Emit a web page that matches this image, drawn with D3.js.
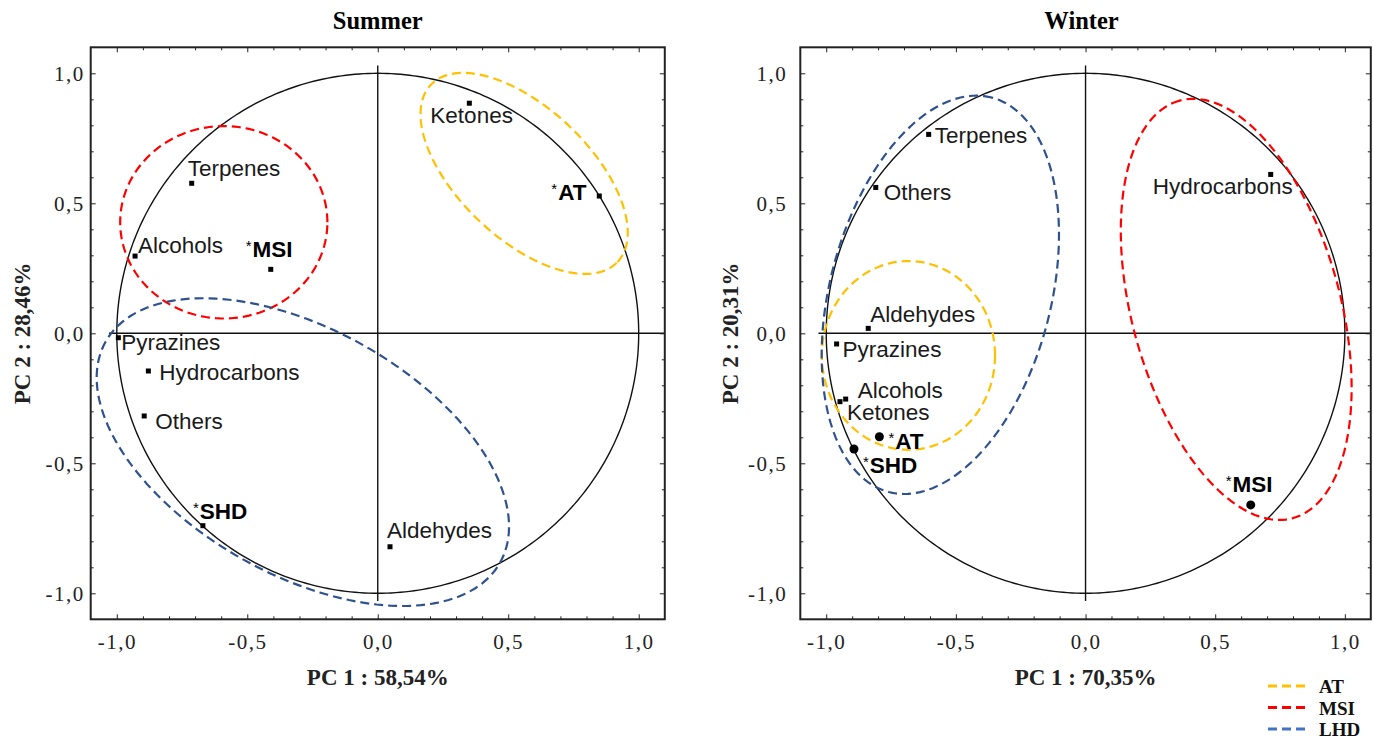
<!DOCTYPE html>
<html>
<head>
<meta charset="utf-8">
<script src="https://cdn.jsdelivr.net/npm/d3@7"></script>
<style>
  body { margin: 0; background: #fff; }
  svg { display: block; }
</style>
</head>
<body>
<div id="chart"></div>
<script>
// ---- data ----
// Summer: variable loadings
const summerVars = ["Terpenes", "Alcohols", "Pyrazines", "Hydrocarbons", "Others", "Aldehydes", "Ketones"];
const summerVarPC1 = [-0.713, -0.930, -0.994, -0.879, -0.895, 0.047, 0.351];
const summerVarPC2 = [0.577, 0.297, -0.017, -0.145, -0.318, -0.821, 0.885];
// Summer: samples
const summerSamples = ["MSI", "AT", "SHD"];
const summerSamplePC1 = [-0.410, 0.849, -0.670];
const summerSamplePC2 = [0.246, 0.528, -0.740];

// Winter: variable loadings
const winterVars = ["Terpenes", "Others", "Hydrocarbons", "Aldehydes", "Pyrazines", "Alcohols", "Ketones"];
const winterVarPC1 = [-0.605, -0.809, 0.714, -0.838, -0.960, -0.925, -0.947];
const winterVarPC2 = [0.765, 0.561, 0.611, 0.019, -0.041, -0.253, -0.263];
// Winter: samples
const winterSamples = ["AT", "SHD", "MSI"];
const winterSamplePC1 = [-0.795, -0.893, 0.637];
const winterSamplePC2 = [-0.398, -0.445, -0.660];

// group ellipses (centre, semi axes, rotation in degrees)
const groupNames = ["AT", "MSI", "LHD"];
const summerEllipses = [
  { group: "AT",  cx: 0.561,  cy: 0.615,  a: 0.494, b: 0.251, angle: -43.7 },
  { group: "MSI", cx: -0.590, cy: 0.427,  a: 0.397, b: 0.370, angle: 0 },
  { group: "LHD", cx: -0.287, cy: -0.457, a: 0.867, b: 0.472, angle: -29.4 }
];
const winterEllipses = [
  { group: "AT",  cx: -0.683, cy: -0.085, a: 0.334, b: 0.363, angle: 0 },
  { group: "MSI", cx: 0.581,  cy: 0.092,  a: 0.832, b: 0.402, angle: 105.2 },
  { group: "LHD", cx: -0.560, cy: 0.148,  a: 0.784, b: 0.426, angle: 75.3 }
];

const majorTicks = [-1, -0.5, 0, 0.5, 1];
const minorTicks = [-0.9, -0.8, -0.7, -0.6, -0.4, -0.3, -0.2, -0.1,
                    0.1, 0.2, 0.3, 0.4, 0.6, 0.7, 0.8, 0.9];

// ---- layout / style ----
const groupColor = { AT: "#FFC000", MSI: "#FF0000", LHD: "#2F528F" };
const legendColor = { AT: "#FFC000", MSI: "#FF0000", LHD: "#4472C4" };

// label offsets in px from the marker (left of text, baseline)
const summerLabelOffset = {
  Terpenes: [-4, -7], Alcohols: [3, -3], Pyrazines: [3, 12], Hydrocarbons: [11, 9],
  Others: [11, 13], Aldehydes: [-3, -9], Ketones: [-39, 20],
  MSI: [-25, -12], AT: [-48, 4], SHD: [-10, -7]
};
const winterLabelOffset = {
  Terpenes: [6, 9], Others: [8, 13], Hydrocarbons: [-118, 20], Aldehydes: [2, -6],
  Pyrazines: [6, 13], Alcohols: [12, -1], Ketones: [7, 18],
  AT: [9, 12], SHD: [9, 24], MSI: [-25, -13]
};

const W = 1374, H = 742;
const svg = d3.select("#chart")
  .append("svg")
  .attr("width", W)
  .attr("height", H);

const fmt = d => d3.format(".1f")(d).replace(".", ",").replace("\u2212", "-");

function drawPanel(p) {
  const x = d3.scaleLinear().domain([-1.1, 1.1]).range([p.left, p.right]);
  const y = d3.scaleLinear().domain([-1.1, 1.1]).range([619.3, 47.3]);
  const g = svg.append("g");

  // unit circle
  const circleLine = d3.line()
    .x(t => x(Math.cos(t * Math.PI / 180)))
    .y(t => y(Math.sin(t * Math.PI / 180)))
    .curve(d3.curveLinearClosed);
  g.append("path")
    .attr("d", circleLine(d3.range(0, 360, 1)))
    .attr("fill", "none")
    .attr("stroke", "#111")
    .attr("stroke-width", 1.4);

  // zero lines
  g.append("line")
    .attr("x1", x(-1.03)).attr("x2", x(1.1))
    .attr("y1", y(0)).attr("y2", y(0))
    .attr("stroke", "#111").attr("stroke-width", 1.4);
  g.append("line")
    .attr("x1", x(0)).attr("x2", x(0))
    .attr("y1", y(1.03)).attr("y2", y(-1.03))
    .attr("stroke", "#111").attr("stroke-width", 1.4);

  // group ellipses
  p.ellipses.forEach(e => {
    const th = e.angle * Math.PI / 180;
    const ell = d3.line()
      .x(t => { const r = t * Math.PI / 180;
        return x(e.cx + e.a * Math.cos(r) * Math.cos(th) - e.b * Math.sin(r) * Math.sin(th)); })
      .y(t => { const r = t * Math.PI / 180;
        return y(e.cy + e.a * Math.cos(r) * Math.sin(th) + e.b * Math.sin(r) * Math.cos(th)); })
      .curve(d3.curveLinearClosed);
    g.append("path")
      .attr("d", ell(d3.range(0, 360, 2)))
      .attr("fill", "none")
      .attr("stroke", groupColor[e.group])
      .attr("stroke-width", 2.2)
      .attr("stroke-dasharray", "9,5");
  });

  // variable markers + labels
  p.vars.forEach((name, i) => {
    const px = x(p.varPC1[i]), py = y(p.varPC2[i]);
    g.append("rect")
      .attr("x", px - 2.5).attr("y", py - 2.5)
      .attr("width", 5).attr("height", 5)
      .attr("fill", "#000");
    const off = p.offsets[name];
    g.append("text")
      .attr("x", px + off[0]).attr("y", py + off[1])
      .attr("font-family", "'Liberation Sans', Arial, sans-serif")
      .attr("font-size", 22.5)
      .attr("fill", "#1a1a1a")
      .text(name);
  });

  // sample markers + labels
  p.samples.forEach((name, i) => {
    const px = x(p.samplePC1[i]), py = y(p.samplePC2[i]);
    if (p.sampleShape === "circle") {
      g.append("circle").attr("cx", px).attr("cy", py).attr("r", 4.5).attr("fill", "#000");
    } else {
      g.append("rect")
        .attr("x", px - 2.5).attr("y", py - 2.5)
        .attr("width", 5).attr("height", 5)
        .attr("fill", "#000");
    }
    const off = p.offsets[name];
    const t = g.append("text")
      .attr("x", px + off[0]).attr("y", py + off[1])
      .attr("font-family", "'Liberation Sans', Arial, sans-serif")
      .attr("fill", "#000");
    t.append("tspan").attr("font-size", 15).attr("dy", -6).text("*");
    t.append("tspan").attr("font-size", 22.5).attr("font-weight", "bold")
      .attr("dx", 1).attr("dy", 6).text(name);
  });

  // ticks (inside, all four sides)
  const axes = [
    { gen: d3.axisBottom(x), tr: `translate(0,${y(-1.1)})`, label: true },
    { gen: d3.axisTop(x),    tr: `translate(0,${y(1.1)})`,  label: false },
    { gen: d3.axisLeft(y),   tr: `translate(${x(-1.1)},0)`, label: true },
    { gen: d3.axisRight(y),  tr: `translate(${x(1.1)},0)`,  label: false }
  ];
  axes.forEach((a, k) => {
    const isX = k < 2;
    g.append("g")
      .attr("transform", a.tr)
      .call(a.gen.tickValues(minorTicks).tickSize(-3).tickFormat(""))
      .call(s => s.select(".domain").remove())
      .selectAll("line").attr("stroke", "#222");
    const major = g.append("g")
      .attr("transform", a.tr)
      .call(a.gen.tickValues(majorTicks).tickSize(-5)
        .tickPadding(isX ? 15 : p.yPad)
        .tickFormat(a.label ? fmt : ""));
    major.select(".domain").remove();
    major.selectAll("line").attr("stroke", "#222");
    major.selectAll("text")
      .attr("font-family", "'Liberation Serif', 'Times New Roman', serif")
      .attr("font-size", 21)
      .attr("letter-spacing", 1.5)
      .attr("fill", "#222");
  });

  // frame
  g.append("rect")
    .attr("x", x(-1.1)).attr("y", y(1.1))
    .attr("width", x(1.1) - x(-1.1)).attr("height", y(-1.1) - y(1.1))
    .attr("fill", "none")
    .attr("stroke", "#222")
    .attr("stroke-width", 2);

  // titles
  g.append("text")
    .attr("x", x(0) + p.titleShift).attr("y", 29)
    .attr("text-anchor", "middle")
    .attr("font-family", "'Liberation Serif', 'Times New Roman', serif")
    .attr("font-weight", "bold")
    .attr("font-size", 24.5)
    .text(p.title);
  g.append("text")
    .attr("x", x(0)).attr("y", 685)
    .attr("text-anchor", "middle")
    .attr("font-family", "'Liberation Serif', 'Times New Roman', serif")
    .attr("font-weight", "bold")
    .attr("font-size", 23)
    .attr("fill", "#222")
    .text(p.xTitle);
  g.append("text")
    .attr("transform", `translate(${p.yTitleX},${y(0)}) rotate(-90)`)
    .attr("text-anchor", "middle")
    .attr("font-family", "'Liberation Serif', 'Times New Roman', serif")
    .attr("font-weight", "bold")
    .attr("font-size", 23)
    .attr("fill", "#222")
    .text(p.yTitle);
}

drawPanel({
  left: 90.7, right: 664.8, title: "Summer", titleShift: 0,
  xTitle: "PC 1 : 58,54%", yTitle: "PC 2 : 28,46%", yTitleX: 30, yPad: 6,
  vars: summerVars, varPC1: summerVarPC1, varPC2: summerVarPC2,
  samples: summerSamples, samplePC1: summerSamplePC1, samplePC2: summerSamplePC2,
  sampleShape: "square", ellipses: summerEllipses, offsets: summerLabelOffset
});

drawPanel({
  left: 800.3, right: 1370.8, title: "Winter", titleShift: -4,
  xTitle: "PC 1 : 70,35%", yTitle: "PC 2 : 20,31%", yTitleX: 738, yPad: 13,
  vars: winterVars, varPC1: winterVarPC1, varPC2: winterVarPC2,
  samples: winterSamples, samplePC1: winterSamplePC1, samplePC2: winterSamplePC2,
  sampleShape: "circle", ellipses: winterEllipses, offsets: winterLabelOffset
});

// legend
const legend = svg.append("g");
groupNames.forEach((name, i) => {
  const ly = 686 + i * 21.5;
  legend.append("line")
    .attr("x1", 1268).attr("x2", 1308)
    .attr("y1", ly).attr("y2", ly)
    .attr("stroke", legendColor[name])
    .attr("stroke-width", 3)
    .attr("stroke-dasharray", "9,5");
  legend.append("text")
    .attr("x", 1319).attr("y", ly + 7)
    .attr("font-family", "'Liberation Serif', 'Times New Roman', serif")
    .attr("font-weight", "bold")
    .attr("font-size", 19)
    .attr("fill", "#111")
    .text(name);
});
</script>
</body>
</html>
